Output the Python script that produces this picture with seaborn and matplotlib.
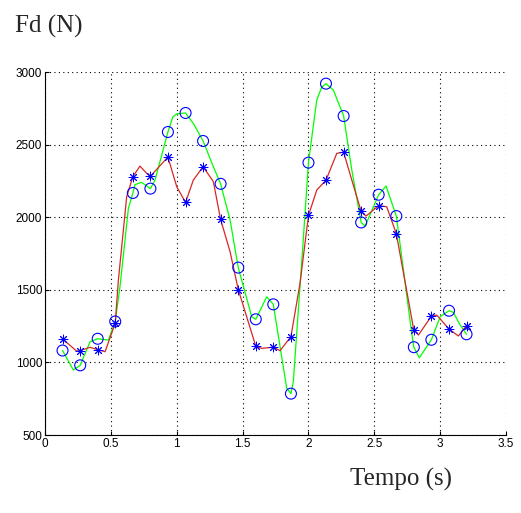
import numpy as np
import pandas as pd
import seaborn as sns
import matplotlib.pyplot as plt

# sample instants (s) and measured force values (N)
tempo = [0.133, 0.267, 0.400, 0.533, 0.667, 0.800, 0.933, 1.067, 1.200, 1.333, 1.467, 1.600,
         1.733, 1.867, 2.000, 2.133, 2.267, 2.400, 2.533, 2.667, 2.800, 2.933, 3.067, 3.200]
fd_circ = [1082, 980, 1163, 1282, 2167, 2197, 2587, 2718, 2525, 2230, 1653, 1297,
           1400, 785, 2376, 2920, 2697, 1964, 2155, 2008, 1105, 1156, 1356, 1194]
fd_star = [1162, 1082, 1088, 1270, 2280, 2282, 2415, 2102, 2348, 1985, 1502, 1112,
           1105, 1178, 2012, 2255, 2448, 2040, 2080, 1887, 1222, 1318, 1230, 1254]

# fitted curves
t_green = [0.133, 0.215, 0.267, 0.342, 0.400, 0.481, 0.533, 0.569, 0.633, 0.667, 0.683, 0.734,
           0.800, 0.835, 0.933, 0.970, 1.000, 1.067, 1.130, 1.200, 1.278, 1.333, 1.405, 1.467,
           1.569, 1.600, 1.683, 1.733, 1.835, 1.867, 1.885, 1.961, 2.000, 2.063, 2.100, 2.133,
           2.189, 2.267, 2.329, 2.400, 2.430, 2.533, 2.589, 2.667, 2.696, 2.784, 2.800, 2.842,
           2.933, 3.000, 3.067, 3.100, 3.150, 3.200]
fd_green = [1082, 948, 980, 1143, 1163, 1154, 1282, 1521, 2061, 2167, 2225, 2240,
            2197, 2256, 2587, 2690, 2712, 2718, 2640, 2525, 2348, 2230, 1981, 1653,
            1315, 1297, 1452, 1400, 822, 785, 867, 1850, 2376, 2807, 2895, 2920,
            2876, 2697, 2325, 1964, 1939, 2155, 2215, 2008, 1810, 1200, 1105, 1032,
            1156, 1315, 1356, 1345, 1260, 1194]
t_red = [0.133, 0.240, 0.267, 0.342, 0.400, 0.456, 0.533, 0.557, 0.620, 0.667, 0.721, 0.772,
         0.800, 0.933, 1.000, 1.067, 1.126, 1.200, 1.278, 1.333, 1.405, 1.467, 1.600, 1.645,
         1.733, 1.784, 1.867, 1.936, 2.000, 2.063, 2.133, 2.215, 2.267, 2.329, 2.400, 2.437,
         2.533, 2.594, 2.667, 2.800, 2.835, 2.933, 2.974, 3.067, 3.138, 3.200]
fd_red = [1162, 1078, 1082, 1104, 1088, 1074, 1270, 1567, 2141, 2280, 2352, 2302,
          2282, 2415, 2210, 2102, 2256, 2348, 2245, 1985, 1762, 1502, 1112, 1097,
          1105, 1081, 1178, 1545, 2012, 2187, 2255, 2440, 2448, 2256, 2040, 2008,
          2080, 2072, 1887, 1222, 1189, 1318, 1326, 1230, 1182, 1254]

sns.set_style("white")
plt.rcParams['font.family'] = ['Liberation Sans', 'DejaVu Sans']

fig = plt.figure(figsize=(5.21, 5.13), dpi=100)
ax = fig.add_axes([0.0864, 0.152, 0.8849, 0.7076])

sns.lineplot(ax=ax, x=t_green, y=fd_green, color=(0, 1, 0), lw=0.9, sort=False, estimator=None)
sns.lineplot(ax=ax, x=t_red, y=fd_red, color=(0.85, 0.15, 0.15), lw=0.9, sort=False, estimator=None)
sns.scatterplot(ax=ax, x=tempo, y=fd_circ, marker='o', s=62, facecolor='none',
                edgecolor='blue', linewidth=0.8, zorder=3)
sns.scatterplot(ax=ax, x=tempo, y=fd_star, marker=(8, 2, 0), s=40, color='blue',
                edgecolor='blue', linewidth=0.7, zorder=3)

ax.set_xlim(0, 3.5)
ax.set_ylim(500, 3000)
ax.set_xticks(np.arange(0, 3.51, 0.5))
ax.set_xticklabels(['0', '0.5', '1', '1.5', '2', '2.5', '3', '3.5'])
ax.set_yticks(np.arange(500, 3001, 500))
ax.grid(True, color='black', linestyle=(0, (1, 3)), linewidth=0.8)
for s in ['top', 'right']:
    ax.spines[s].set_visible(False)
for s in ['left', 'bottom']:
    ax.spines[s].set_color('black')
    ax.spines[s].set_linewidth(0.8)
ax.tick_params(direction='in', length=3, width=0.8, labelsize=8.5, pad=2,
               bottom=True, left=True, colors='black')

fig.text(15 / 521, 1 - 26 / 513, 'Fd (N)', fontsize=18, family='Liberation Serif',
         ha='left', va='center')
fig.text(401 / 521, 1 - 479 / 513, 'Tempo (s)', fontsize=18, family='Liberation Serif',
         ha='center', va='center')

fig.savefig('out.png', dpi=100)
